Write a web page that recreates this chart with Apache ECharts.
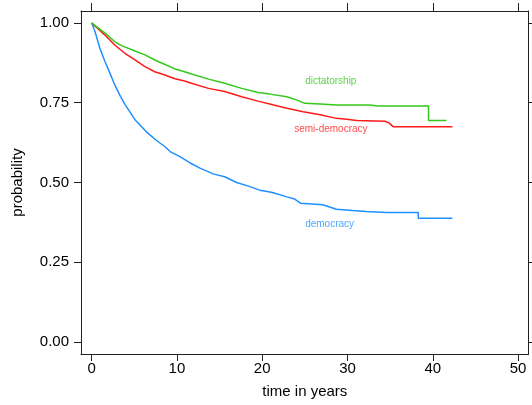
<!DOCTYPE html>
<html>
<head>
<meta charset="utf-8">
<script src="https://cdn.jsdelivr.net/npm/echarts@6/dist/echarts.min.js"></script>
<style>
  html, body { margin: 0; padding: 0; background: #fff; }
  #chart { width: 532px; height: 405px; }
</style>
</head>
<body>
<div id="chart"></div>
<script>
// Kaplan-Meier survival estimates by regime type (time in years, probability)
const democracyTime = [0, 0.39, 0.97, 1.56, 2.15, 2.73, 3.3, 3.9, 5.1, 6.45, 7.5, 8.6, 9.2, 10.35, 11.5, 12.7, 14.25, 15.6, 17.0, 18.56, 19.7, 20.9, 21.3, 22.9, 23.8, 24.5, 27.1, 28.7, 30.6, 32.2, 34.6, 38.3, 38.3, 42.3];
const democracySurv = [1.0, 0.973, 0.920, 0.879, 0.842, 0.805, 0.774, 0.745, 0.696, 0.658, 0.634, 0.612, 0.597, 0.581, 0.562, 0.545, 0.527, 0.518, 0.500, 0.487, 0.476, 0.470, 0.468, 0.455, 0.448, 0.435, 0.430, 0.416, 0.412, 0.409, 0.406, 0.406, 0.388, 0.388];

const semiTime = [0, 1.56, 2.7, 3.9, 5.08, 6.25, 7.4, 8.6, 9.77, 10.9, 11.7, 13.7, 15.6, 17.6, 19.5, 21.0, 22.9, 24.8, 26.8, 28.7, 29.9, 31.1, 34.4, 34.9, 35.35, 42.3];
const semiSurv = [1.0, 0.962, 0.931, 0.905, 0.884, 0.863, 0.847, 0.837, 0.825, 0.818, 0.811, 0.795, 0.785, 0.769, 0.755, 0.745, 0.733, 0.722, 0.712, 0.701, 0.698, 0.694, 0.692, 0.686, 0.675, 0.675];

const dictTime = [0, 1.56, 2.73, 3.5, 5.08, 6.25, 7.4, 8.6, 9.77, 10.9, 11.7, 13.7, 15.6, 17.6, 19.5, 20.9, 22.9, 24.0, 25.0, 26.8, 28.7, 32.6, 33.6, 39.5, 39.5, 41.6];
const dictSurv = [1.0, 0.968, 0.941, 0.929, 0.912, 0.900, 0.884, 0.870, 0.856, 0.847, 0.840, 0.824, 0.811, 0.795, 0.782, 0.777, 0.769, 0.759, 0.748, 0.746, 0.743, 0.743, 0.740, 0.740, 0.694, 0.694];

// Curve labels placed inside the panel
const labelNames = ['dictatorship', 'semi-democracy', 'democracy'];
const labelX = [28.05, 28.05, 27.9];
const labelY = [0.817, 0.667, 0.369];

const xTicks = [0, 10, 20, 30, 40, 50];
const yTicks = [0, 0.25, 0.5, 0.75, 1.0];

const colors = { democracy: '#1E90FF', semi: '#FF1A1A', dict: '#33C81A' };

const zip = (a, b) => a.map((v, i) => [v, b[i]]);

const axisLine = { show: true, onZero: false, lineStyle: { color: '#222', width: 1 } };
const fontFamily = 'Liberation Sans, Arial, Helvetica, sans-serif';

const chart = echarts.init(document.getElementById('chart'), null, { renderer: 'canvas' });

function lineSeries(name, t, s, color) {
  return {
    name: name,
    type: 'line',
    data: zip(t, s),
    showSymbol: false,
    symbol: 'none',
    lineStyle: { color: color, width: 1.5 },
    itemStyle: { color: color },
    animation: false,
    z: 3
  };
}

const labelColors = [colors.dict, colors.semi, colors.democracy];

chart.setOption({
  backgroundColor: '#fff',
  animation: false,
  grid: { left: 81, top: 11, right: 3.3, bottom: 51, containLabel: false },
  xAxis: [
    {
      type: 'value', position: 'bottom', min: -1.25, max: 51.25,
      axisLine: axisLine,
      splitLine: { show: false },
      axisTick: { show: true, length: 7, lineStyle: { color: '#222' }, customValues: xTicks },
      axisLabel: { show: true, customValues: xTicks, color: '#000', fontSize: 15, fontFamily: fontFamily, margin: 7 },
      name: 'time in years', nameLocation: 'middle', nameGap: 30,
      nameTextStyle: { color: '#000', fontSize: 15, fontFamily: fontFamily }
    },
    {
      type: 'value', position: 'top', min: -1.25, max: 51.25,
      axisLine: axisLine,
      splitLine: { show: false },
      axisTick: { show: true, length: 8, lineStyle: { color: '#222' }, customValues: xTicks },
      axisLabel: { show: false }
    }
  ],
  yAxis: [
    {
      type: 'value', position: 'left', min: -0.0375, max: 1.0375,
      axisLine: axisLine,
      splitLine: { show: false },
      axisTick: { show: true, length: 7, lineStyle: { color: '#222' }, customValues: yTicks },
      axisLabel: {
        show: true, customValues: yTicks, color: '#000', fontSize: 15, fontFamily: fontFamily, margin: 12,
        formatter: v => v.toFixed(2)
      },
      name: 'probability', nameLocation: 'middle', nameGap: 56, nameRotate: 90,
      nameTextStyle: { color: '#000', fontSize: 15, fontFamily: fontFamily }
    },
    {
      type: 'value', position: 'right', min: -0.0375, max: 1.0375,
      axisLine: axisLine,
      splitLine: { show: false },
      axisTick: { show: true, length: 7, lineStyle: { color: '#222' }, customValues: yTicks },
      axisLabel: { show: false }
    }
  ],
  series: [
    lineSeries('democracy', democracyTime, democracySurv, colors.democracy),
    lineSeries('semi-democracy', semiTime, semiSurv, colors.semi),
    lineSeries('dictatorship', dictTime, dictSurv, colors.dict),
    {
      type: 'scatter',
      symbolSize: 0,
      silent: true,
      animation: false,
      data: labelNames.map((n, i) => ({
        value: [labelX[i], labelY[i]],
        name: n,
        label: {
          show: true, position: 'inside', formatter: n,
          color: labelColors[i], fontSize: 10, fontFamily: fontFamily
        }
      }))
    }
  ]
});
</script>
</body>
</html>
